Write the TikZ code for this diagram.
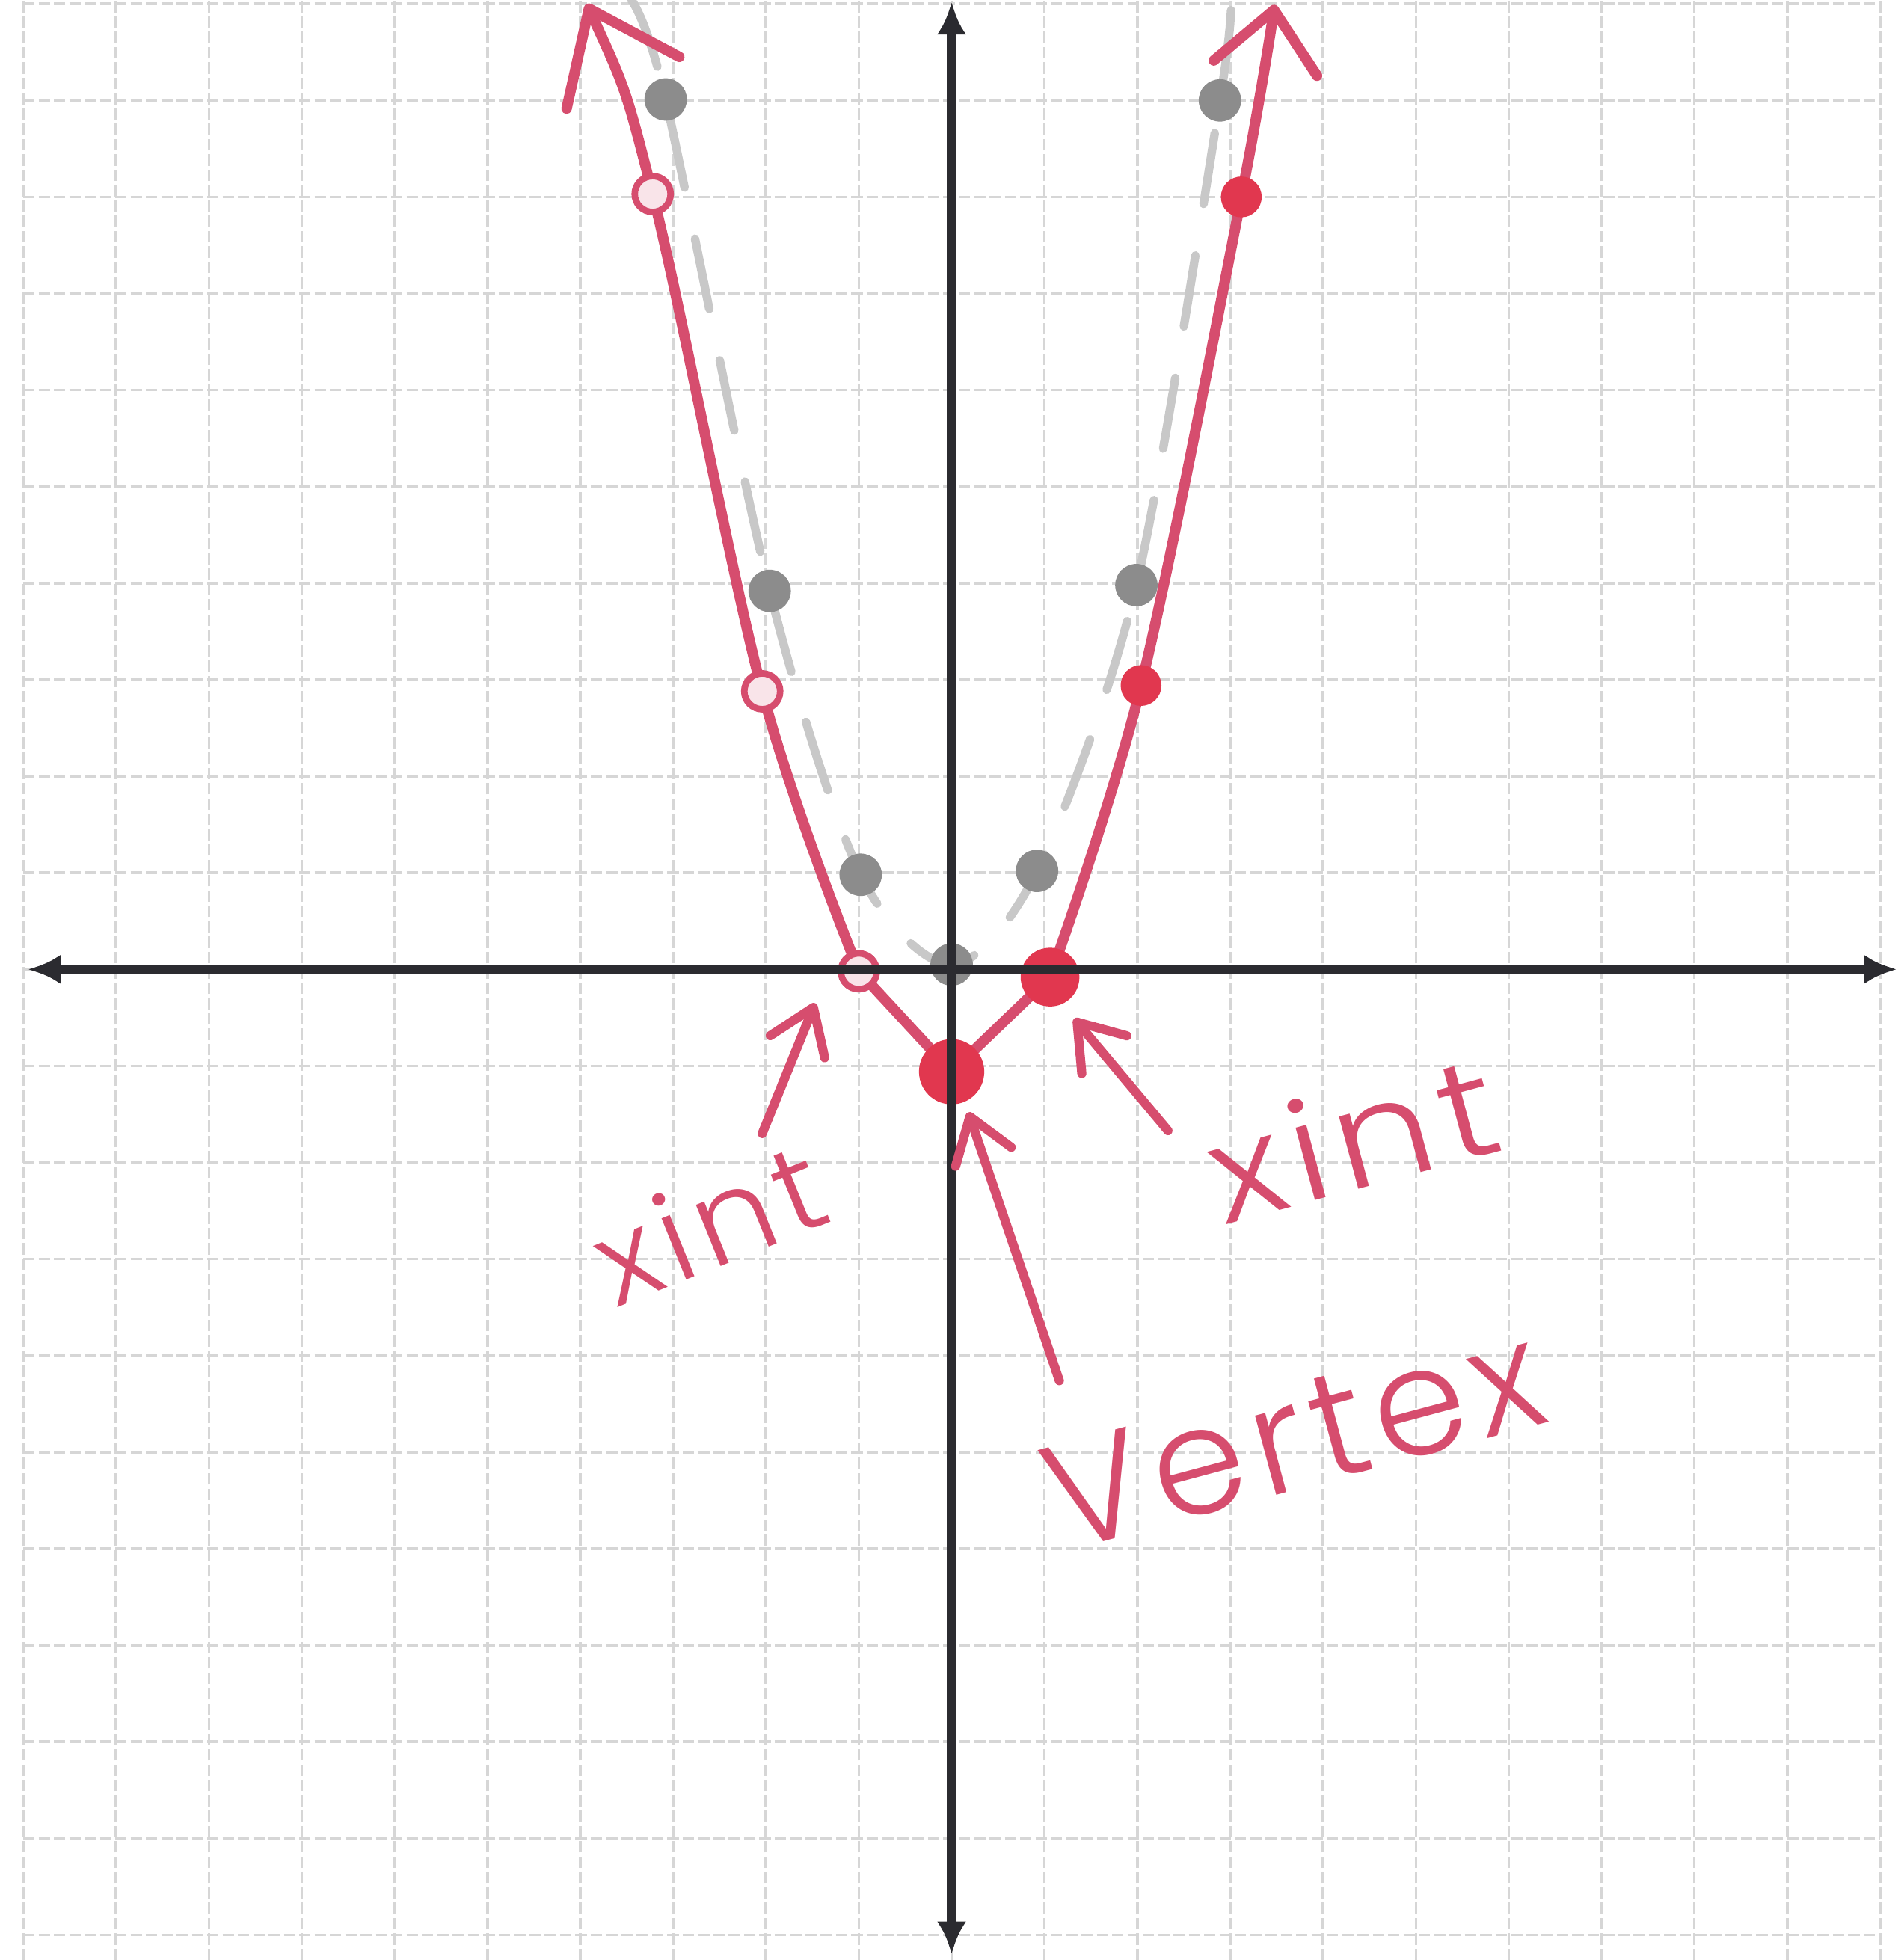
\documentclass[tikz,border=0pt]{standalone}
\usepackage{fontspec}
\usepackage{tikz}
\usetikzlibrary{arrows.meta}
\newfontfamily\hand{Poppins Light}[LetterSpace=6]
\definecolor{pen}{HTML}{D64D6E}
\definecolor{blob}{HTML}{E1374F}
\definecolor{lead}{HTML}{8C8C8C}
\definecolor{faint}{HTML}{C8C8C8}
\definecolor{ink}{HTML}{2B2B30}
\definecolor{paper}{HTML}{D6D6D6}
\tikzset{
  gridln/.style={draw=paper,line width=0.8pt,dash pattern=on 3.5pt off 1.2pt},
  axisln/.style={draw=ink,line width=3pt,{Latex[length=10pt,width=9pt]}-{Latex[length=10pt,width=9pt]}},
  oldcurve/.style={draw=faint,line width=2.6pt,line cap=round,dash pattern=on 22pt off 16pt},
  newcurve/.style={draw=pen,line width=3.2pt,line cap=round,line join=round,
    {Straight Barb[round,length=25pt,width=38pt]}-{Straight Barb[round,length=18pt,width=32pt]}},
  gdot/.style={circle,fill=lead,inner sep=0pt,minimum size=13pt},
  rdot/.style={circle,fill=blob,inner sep=0pt,minimum size=12.5pt},
  odot/.style={circle,draw=pen,line width=2pt,fill=pen!15,inner sep=0pt,minimum size=11pt},
  note/.style={text=pen,inner sep=0pt},
  ar/.style={draw=pen,line width=2.8pt,line cap=round,-{Straight Barb[round,length=13pt,width=18pt]}},
}

\begin{document}
\begin{tikzpicture}[x=1cm,y=1.04cm]
\useasboundingbox (-10.25,-10.26) rectangle (10.25,10.04);
\fill[white] (-10.25,-10.26) rectangle (10.25,10.04);

\foreach \i in {-10,...,10} {
  \draw[gridln] (\i,-10.26) -- (\i,10.04);
  \draw[gridln] (-10,\i) -- (10,\i);
}

% y = x^2
\draw[oldcurve] plot[smooth,tension=0.5] coordinates {(-3.45,10.04) (-3.08,9.01) (-1.96,3.92) (-0.98,0.98) (0,0.05) (0.92,1.02) (1.99,3.98) (2.89,9.0) (3.01,10.04)};

% y = x^2 - 1
\draw[newcurve] plot[smooth,tension=0.55] coordinates {(-3.93,10.0) (-3.22,8.03) (-2.04,2.88) (-1.0,-0.02)}
  -- (0,-1.06) -- (1.06,-0.08)
  -- plot[smooth,tension=0.55] coordinates {(1.06,-0.08) (2.04,2.94) (3.12,8.0) (3.48,9.99)};

\node[gdot] (g1) at (-3.08,9.01) {};
\node[gdot] (g2) at (-1.96,3.92) {};
\node[gdot] (g3) at (-0.98,0.98) {};
\node[gdot] (g4) at (0,0.05) {};
\node[gdot] (g5) at (0.92,1.02) {};
\node[gdot] (g6) at (1.99,3.98) {};
\node[gdot] (g7) at (2.89,9.0) {};

\node[odot] (r1) at (-3.22,8.03) {};
\node[odot] (r2) at (-2.04,2.88) {};
\node[odot] (xa) at (-1.0,-0.02) {};
\node[rdot,minimum size=20pt] (vt) at (0,-1.06) {};
\node[rdot,minimum size=18pt] (xb) at (1.06,-0.08) {};
\node[rdot] (r3) at (2.04,2.94) {};
\node[rdot] (r4) at (3.12,8.0) {};

\coordinate (xw) at (-9.95,0);
\coordinate (xe) at (10.18,0);
\coordinate (ys) at (0,-10.2);
\coordinate (yn) at (0,10.02);
\draw[axisln] (xw) -- (xe);
\draw[axisln] (ys) -- (yn);

\node[note,rotate=22,xscale=1.05,font=\hand\fontsize{37}{40}\selectfont] (lblxa) at (-2.62,-2.62) {xint};
\node[note,rotate=15,xscale=1.15,font=\hand\fontsize{42}{46}\selectfont] (lblxb) at (4.31,-1.74) {xint};
\node[note,rotate=15,xscale=1.0,font=\hand\fontsize{46}{50}\selectfont] (lblvt) at (3.68,-4.84) {Vertex};

\coordinate (axa) at (-2.04,-1.70);
\coordinate (bxa) at (-1.47,-0.35);
\coordinate (axb) at (2.33,-1.67);
\coordinate (bxb) at (1.32,-0.51);
\coordinate (avt) at (1.16,-4.26);
\coordinate (bvt) at (0.18,-1.48);
\draw[ar] (axa) -- (bxa);
\draw[ar] (axb) -- (bxb);
\draw[ar] (avt) -- (bvt);
\end{tikzpicture}
\end{document}
